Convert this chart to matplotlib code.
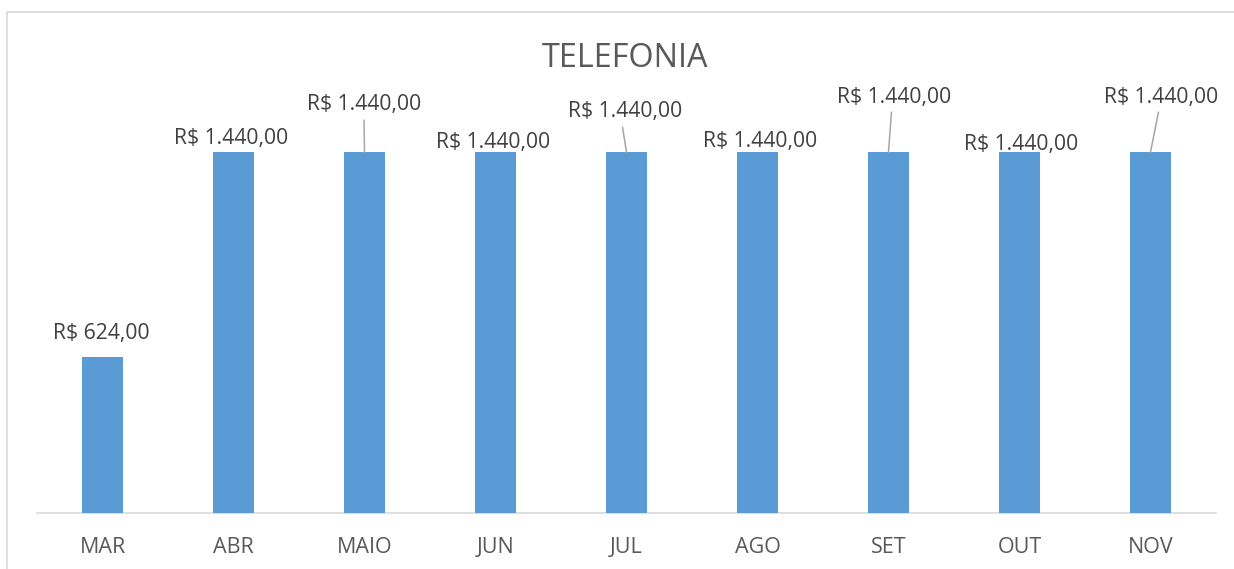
import matplotlib
matplotlib.use("Agg")
import matplotlib.pyplot as plt
from matplotlib.patches import Rectangle

# ---- data ----
categories = ["MAR", "ABR", "MAIO", "JUN", "JUL", "AGO", "SET", "OUT", "NOV"]
values = [624, 1440, 1440, 1440, 1440, 1440, 1440, 1440, 1440]
title = "TELEFONIA"

def brl(v):
    s = f"{v:,.2f}"  # 1,440.00
    s = s.replace(",", "X").replace(".", ",").replace("X", ".")
    return "R$ " + s

# ---- layout / style (label offsets in pixels, relative to bar top centre) ----
label_offsets = [(-1, 18), (-2.5, 8), (0, 42), (-2.5, 4), (-1, 35), (2.5, 5), (5.5, 49), (2, 2), (11, 49)]
# leader lines: (index, top dx, top dy, bottom dx)
leaders = [(2, -0.5, 32, 0), (4, -3.5, 25, 0.5), (6, 2.5, 40, -0.5), (8, 8.5, 40, 0.5)]

W, H = 1234, 569
fig = plt.figure(figsize=(W / 100, H / 100), dpi=100)
fig.patch.set_facecolor("white")

# chart border
fig.patches.append(Rectangle((7 / W, -0.1), 1.2, (H - 12) / H + 0.1, transform=fig.transFigure,
                             fill=False, edgecolor="#d9d9d9", linewidth=1.2))

ax_left, ax_right = 37 / W, 1216 / W
ax_bottom = (H - 513) / H
ax_height = 401 / H
ax = fig.add_axes([ax_left, ax_bottom, ax_right - ax_left, ax_height])
ax.set_xlim(-0.5, len(categories) - 0.5)
ax.set_ylim(0, 1600)

x = list(range(len(categories)))
ax.bar(x, values, width=0.315, color="#5b9bd5", zorder=3)

for s in ["top", "right", "left"]:
    ax.spines[s].set_visible(False)
ax.spines["bottom"].set_color("#d9d9d9")
ax.spines["bottom"].set_linewidth(1.2)
ax.set_yticks([])
ax.set_xticks(x)
FONT = "Open Sans"
ax.set_xticklabels(categories, fontsize=15.5, color="#595959", fontfamily=FONT)
ax.tick_params(axis="x", length=0, pad=17.5)
ax.patch.set_alpha(0)

for i, v in enumerate(values):
    dx, dy = label_offsets[i]
    ax.annotate(brl(v), xy=(i, v), xytext=(dx, dy), textcoords="offset pixels",
                ha="center", va="baseline", fontsize=15.2, color="#404040",
                fontfamily=FONT, annotation_clip=False)

for i, tdx, tdy, bdx in leaders:
    ax.annotate("", xy=(i, values[i]), xytext=(tdx - bdx, tdy), textcoords="offset pixels",
                arrowprops=dict(arrowstyle="-", color="#a6a6a6", lw=1.1, shrinkA=0, shrinkB=0),
                annotation_clip=False)

fig.text(625.5 / W, 1 - 67 / H, title, ha="center", va="baseline", fontsize=23.3,
         color="#595959", fontfamily=FONT)

fig.savefig("out.png", dpi=100, facecolor="white")
